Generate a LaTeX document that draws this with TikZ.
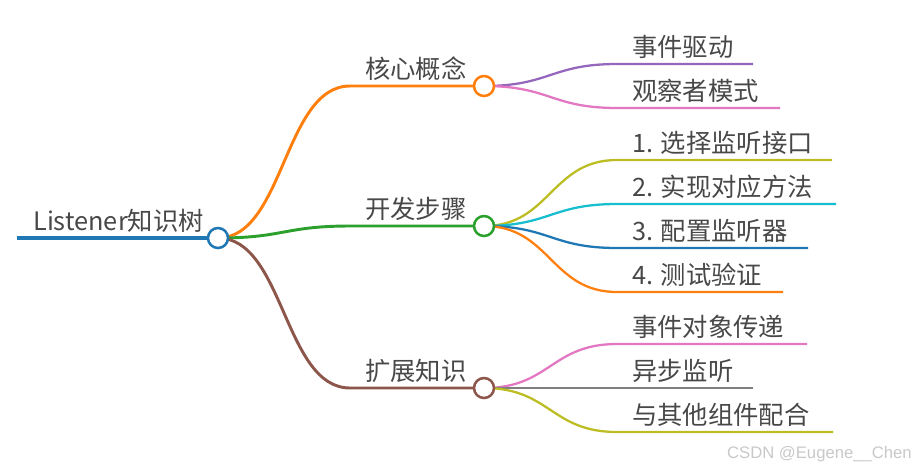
\documentclass[tikz,border=0pt]{standalone}
\usepackage{fontspec}
\setmainfont{Noto Sans CJK SC}
\newfontfamily\wmfont{Liberation Sans}
\usetikzlibrary{calc,backgrounds}
\definecolor{cblue}{HTML}{1F77B4}
\definecolor{corange}{HTML}{FF7F0E}
\definecolor{cgreen}{HTML}{2CA02C}
\definecolor{cbrown}{HTML}{8C564B}
\definecolor{cpurple}{HTML}{9467BD}
\definecolor{cpink}{HTML}{E377C2}
\definecolor{cgray}{HTML}{7F7F7F}
\definecolor{colive}{HTML}{BCBD22}
\definecolor{ccyan}{HTML}{17BECF}
\definecolor{ctext}{HTML}{484848}
\definecolor{cwm}{HTML}{C8C8C8}
\begin{document}
\begin{tikzpicture}[x=0.75pt,y=-0.75pt,
  dot/.style={circle,draw=#1,fill=white,line width=1.9pt,minimum size=15pt,inner sep=0pt},
  lbl/.style={font=\fontsize{19}{23}\selectfont,text=ctext,inner sep=0pt},
  l0/.style={draw=#1,line width=3.4pt},
  l1/.style={draw=#1,line width=2.2pt},
  l2/.style={draw=#1,line width=1.7pt}]
\useasboundingbox (0,0) rectangle (916,469);
% root
\coordinate (rs) at (17,238);
\node[dot=cblue] (r) at (218,238) {};
% level 1
\coordinate (a0) at (350,86);  \node[dot=corange] (a) at (484,86) {};
\coordinate (b0) at (350,226); \node[dot=cgreen] (b) at (484,226) {};
\coordinate (c0) at (350,388); \node[dot=cbrown] (c) at (484,388) {};
% level 2
\coordinate (a1s) at (617,64);  \coordinate (a1e) at (753,64);
\coordinate (a2s) at (617,108); \coordinate (a2e) at (780,108);
\coordinate (b1s) at (617,160); \coordinate (b1e) at (832,160);
\coordinate (b2s) at (617,204); \coordinate (b2e) at (836,204);
\coordinate (b3s) at (617,248); \coordinate (b3e) at (808,248);
\coordinate (b4s) at (617,292); \coordinate (b4e) at (783,292);
\coordinate (c1s) at (617,344); \coordinate (c1e) at (807,344);
\coordinate (c2s) at (617,388); \coordinate (c2e) at (753,388);
\coordinate (c3s) at (617,432); \coordinate (c3e) at (833,432);
\begin{scope}[on background layer]
\draw[l0=cblue] (rs) -- (r.center);
\draw[l1=corange] (r.center) .. controls +(66,0) and +(-66,0) .. (a0) -- (a.center);
\draw[l1=cgreen]  (r.center) .. controls +(66,0) and +(-66,0) .. (b0) -- (b.center);
\draw[l1=cbrown]  (r.center) .. controls +(66,0) and +(-66,0) .. (c0) -- (c.center);
\draw[l2=cpurple] (a.center) .. controls +(66,0) and +(-66,0) .. (a1s) -- (a1e);
\draw[l2=cpink]   (a.center) .. controls +(66,0) and +(-66,0) .. (a2s) -- (a2e);
\draw[l2=colive]  (b.center) .. controls +(66,0) and +(-66,0) .. (b1s) -- (b1e);
\draw[l2=ccyan]   (b.center) .. controls +(66,0) and +(-66,0) .. (b2s) -- (b2e);
\draw[l2=cblue]   (b.center) .. controls +(66,0) and +(-66,0) .. (b3s) -- (b3e);
\draw[l2=corange] (b.center) .. controls +(66,0) and +(-66,0) .. (b4s) -- (b4e);
\draw[l2=cpink]   (c.center) .. controls +(66,0) and +(-66,0) .. (c1s) -- (c1e);
\draw[l2=cgray]   (c.center) .. controls +(66,0) and +(-66,0) .. (c2s) -- (c2e);
\draw[l2=colive]  (c.center) .. controls +(66,0) and +(-66,0) .. (c3s) -- (c3e);
\end{scope}
% labels
\node[lbl,anchor=base west] (tr) at ($(rs)+(16,-8)$) {Listener知识树};
\node[lbl,anchor=base west] (ta) at ($(a0)+(15,-8)$) {核心概念};
\node[lbl,anchor=base west] (tb) at ($(b0)+(15,-8)$) {开发步骤};
\node[lbl,anchor=base west] (tc) at ($(c0)+(15,-8)$) {扩展知识};
\node[lbl,anchor=base west] (ta1) at ($(a1s)+(15,-8)$) {事件驱动};
\node[lbl,anchor=base west] (ta2) at ($(a2s)+(15,-8)$) {观察者模式};
\node[lbl,anchor=base west] (tb1) at ($(b1s)+(15,-8)$) {1. 选择监听接口};
\node[lbl,anchor=base west] (tb2) at ($(b2s)+(15,-8)$) {2. 实现对应方法};
\node[lbl,anchor=base west] (tb3) at ($(b3s)+(15,-8)$) {3. 配置监听器};
\node[lbl,anchor=base west] (tb4) at ($(b4s)+(15,-8)$) {4. 测试验证};
\node[lbl,anchor=base west] (tc1) at ($(c1s)+(15,-8)$) {事件对象传递};
\node[lbl,anchor=base west] (tc2) at ($(c2s)+(15,-8)$) {异步监听};
\node[lbl,anchor=base west] (tc3) at ($(c3s)+(15,-8)$) {与其他组件配合};
\node[font=\wmfont\fontsize{12.5}{15}\selectfont,text=cwm,anchor=east,inner sep=0pt] (wm) at (912,454) {CSDN @Eugene\_\_Chen};
\end{tikzpicture}
\end{document}
